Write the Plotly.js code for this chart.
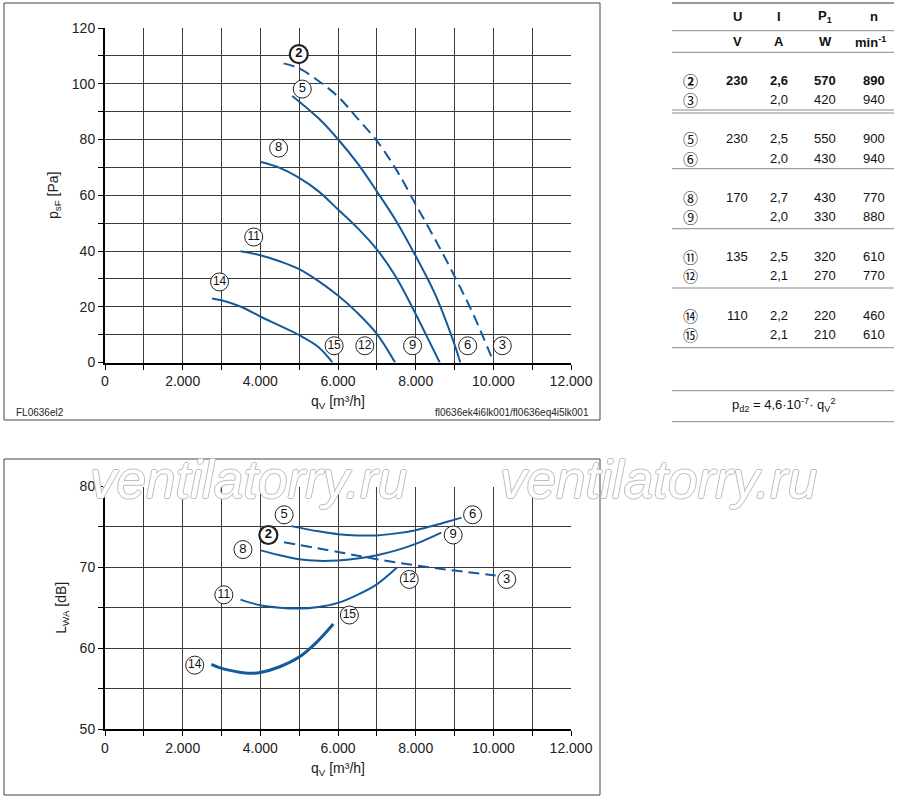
<!DOCTYPE html>
<html><head><meta charset="utf-8">
<script src="https://cdn.plot.ly/plotly-3.0.1.min.js"></script>
<style>html,body{margin:0;padding:0;background:#fff}#chart{width:900px;height:797px}</style>
</head><body><div id="chart"></div>
<script>
// ---------- DATA ----------
// Pressure curves: q_V [m³/h] vs p_sF [Pa]
const pQ2  = [4600,5000,5500,6000,6500,7000,7500,8000,8500,9000,9500,10010];
const pP2  = [107.3,105.5,101,95.4,87.6,79.5,69.2,56.7,44.2,31,16.8,0];
const pQ5  = [4820,5000,5500,6000,6500,7000,7500,8000,8500,9000,9150];
const pP5  = [95.6,93.6,87.6,80.1,71.5,61.4,50.7,38.2,24.5,6.5,0];
const pQ8  = [4017,4500,5000,5500,6000,6500,7000,7500,8000,8300,8620];
const pP8  = [71.9,69.8,66.2,61.4,54.9,48.3,40.6,30.5,17.4,9.0,0];
const pQ11 = [3490,4000,4500,5000,5500,6000,6500,7000,7470];
const pP11 = [39.9,38.5,36.3,33.5,29.2,24,17.8,10.3,0];
const pQ14 = [2755,3000,3500,4000,4500,5000,5500,5860];
const pP14 = [23,22.3,20,16.5,13.2,9.8,5.5,0];

// Sound power curves: q_V [m³/h] vs L_WA [dB]
const sQ5  = [4800,5500,6000,6500,7000,7500,8000,8500,9000,9180];
const sL5  = [75.1,74.45,74.1,73.95,73.95,74.2,74.6,75.2,75.9,76.15];
const sQ8  = [4010,4500,5000,5500,6000,6500,7000,7500,8000,8660];
const sL8  = [72.1,71.5,71.0,70.8,70.85,71.1,71.5,72.1,72.9,74.3];
const sQ2  = [4610,6000,7000,8000,9000,10060];
const sL2  = [73.1,71.9,71.0,70.25,69.6,69.0];
const sQ11 = [3490,4000,4500,5000,5500,6000,6500,7000,7525];
const sL11 = [66.0,65.3,65.0,64.9,65.1,65.6,66.6,67.9,70.0];
const sQ14 = [2740,3000,3500,3700,4000,4500,5000,5400,5880];
const sL14 = [58.0,57.5,57.0,56.9,57.0,57.7,58.9,60.5,63.0];

// Curve labels
const pLabelIds = ['2','5','8','11','14','15','12','9','6','3'];
const pLabelQ   = [4990,5080,4470,3830,2950,5900,6690,7920,9340,10230];
const pLabelP   = [110.6,98.1,76.9,45,28.9,6,6,6,6,6];
const sLabelIds = ['5','6','2','9','8','12','3','11','15','14'];
const sLabelQ   = [4612,9466,4207,8966,3552,7836,10345,3060,6293,2310];
const sLabelL   = [76.5,76.5,74.0,74.0,72.2,68.5,68.5,66.6,64.1,57.9];

// Ticks
const qTickVals = [0,1000,2000,3000,4000,5000,6000,7000,8000,9000,10000,11000,12000];
const qTickText = ['0','','2.000','','4.000','','6.000','','8.000','','10.000','','12.000'];
const pTickVals = [0,10,20,30,40,50,60,70,80,90,100,110,120];
const pTickText = ['0','','20','','40','','60','','80','','100','','120'];
const lTickVals = [50,55,60,65,70,75,80];
const lTickText = ['50','','60','','70','','80'];

// Table
const tableHead  = ['U','I','P<sub>1</sub>','n'];
const tableUnits = ['V','A','W','min<sup>-1</sup>'];
const tableIds   = ['②','③','⑤','⑥','⑧','⑨','⑪','⑫','⑭','⑮'];
const tableU     = ['230','','230','','170','','135','','110',''];
const tableI     = ['2,6','2,0','2,5','2,0','2,7','2,0','2,5','2,1','2,2','2,1'];
const tableP     = ['570','420','550','430','430','330','320','270','220','210'];
const tableN     = ['890','940','900','940','770','880','610','770','460','610'];
const tableFormula = 'p<sub>d2</sub> = 4,6·10<sup>-7</sup>· q<sub>V</sub><sup>2</sup>';

// ---------- BUILD ----------
const W = 900, H = 797;
const px = x => x / W;
const py = y => 1 - y / H;
const BLUE = '#14599a';
const FONT = 'Liberation Sans, Arial, sans-serif';

function curve(x, y, xa, ya, dashed, width) {
  return {x, y, xaxis: xa, yaxis: ya, type: 'scatter', mode: 'lines',
    line: {color: BLUE, width: width || 2, shape: 'spline', smoothing: 1, dash: dashed ? '11px,6px' : 'solid'},
    hoverinfo: 'skip', showlegend: false};
}
function labels(ids, x, y, xa, ya) {
  return {x, y, xaxis: xa, yaxis: ya, type: 'scatter', mode: 'markers+text',
    text: ids.map(t => t === '2' ? '<b>2</b>' : t),
    textposition: 'middle center',
    textfont: {family: FONT, size: ids.map(t => t.length > 1 ? 12 : 13), color: '#111'},
    marker: {symbol: 'circle', size: 18, color: '#fff',
      line: {color: '#222', width: ids.map(t => t === '2' ? 2.2 : 1)}},
    hoverinfo: 'skip', showlegend: false};
}

const traces = [
  curve(pQ2, pP2, 'x', 'y', true),
  curve(pQ5, pP5, 'x', 'y'),
  curve(pQ8, pP8, 'x', 'y'),
  curve(pQ11, pP11, 'x', 'y'),
  curve(pQ14, pP14, 'x', 'y'),
  labels(pLabelIds, pLabelQ, pLabelP, 'x', 'y'),
  curve(sQ2, sL2, 'x2', 'y2', true),
  curve(sQ5, sL5, 'x2', 'y2'),
  curve(sQ8, sL8, 'x2', 'y2'),
  curve(sQ11, sL11, 'x2', 'y2'),
  curve(sQ14, sL14, 'x2', 'y2', false, 3),
  labels(sLabelIds, sLabelQ, sLabelL, 'x2', 'y2'),
];

const xCommon = {
  range: [0, 12000], tickmode: 'array', tickvals: qTickVals, ticktext: qTickText,
  showgrid: true, gridcolor: '#3a3a3a', gridwidth: 1,
  showline: true, linecolor: '#000', linewidth: 2,
  ticks: 'outside', ticklen: 5, tickcolor: '#000', tickwidth: 1,
  tickfont: {family: FONT, size: 14, color: '#222'},
  zeroline: false, fixedrange: true, automargin: false,
  domain: [px(105), px(571)]
};
const yCommon = {
  tickmode: 'array', showgrid: true, gridcolor: '#3a3a3a', gridwidth: 1,
  showline: true, linecolor: '#000', linewidth: 2,
  ticks: 'outside', ticklen: 5, tickcolor: '#000', tickwidth: 1,
  tickfont: {family: FONT, size: 14, color: '#222'},
  zeroline: false, fixedrange: true, automargin: false
};
const xTitle = {text: 'q<sub>V</sub> [m³/h]', font: {family: FONT, size: 14, color: '#222'}, standoff: 8};

const shapes = [];
// frames
shapes.push({type: 'rect', xref: 'paper', yref: 'paper', x0: px(4), x1: px(600), y0: py(420), y1: py(3), line: {color: '#444', width: 1}});
shapes.push({type: 'rect', xref: 'paper', yref: 'paper', x0: px(4), x1: px(600), y0: py(795), y1: py(459), line: {color: '#444', width: 1}});
// table lines
const tblLines = [[3,2,'#9a9a9a'],[30.7,1,'#888'],[52.3,1,'#888'],[110,1,'#888'],[113,1,'#888'],[168.7,1,'#888'],[228.7,1,'#888'],[288,1,'#888'],[347.7,1,'#888'],[390.7,1,'#888'],[421.7,1,'#888']];
tblLines.forEach(([y, w, c]) => shapes.push({type: 'line', xref: 'paper', yref: 'paper', x0: px(672), x1: px(894), y0: py(y), y1: py(y), line: {color: c, width: w}}));

const ann = [];
function txt(x, y, text, opts) {
  if (!text) return;
  ann.push(Object.assign({xref: 'paper', yref: 'paper', x: px(x), y: py(y), text, showarrow: false,
    xanchor: 'center', yanchor: 'middle', font: {family: FONT, size: 13, color: '#222'}}, opts || {}));
}
// watermark
const wm = {family: FONT, size: 53, color: '#ffffff', style: 'italic',
  shadow: '1px 0 0 #bdbdbd, -1px 0 0 #bdbdbd, 0 1px 0 #bdbdbd, 0 -1px 0 #bdbdbd'};
txt(88, 479, 'ventilatorry.ru', {xanchor: 'left', font: wm});
txt(498, 479, 'ventilatorry.ru', {xanchor: 'left', font: wm});
// footers
txt(14, 412, 'FL0636el2', {xanchor: 'left', font: {family: FONT, size: 10, color: '#222'}});
txt(591, 412, 'fl0636ek4i6lk001/fl0636eq4i5lk001', {xanchor: 'right', font: {family: FONT, size: 10, color: '#222'}});
// table
const colX = [737, 778.5, 825, 874];
tableHead.forEach((t, i) => txt(colX[i], 16, '<b>' + t + '</b>', {font: {family: FONT, size: 13, color: '#111'}}));
tableUnits.forEach((t, i) => txt(colX[i] - (i === 3 ? 4 : 0), 41.5, '<b>' + t + '</b>', {font: {family: FONT, size: 13, color: '#111'}}));
tableIds.forEach((id, r) => {
  const g = Math.floor(r / 2), k = r % 2;
  const y = 80 + g * 58.8 + k * 19.2;
  const bold = r === 0;
  const f = {family: FONT, size: 13, color: '#111'};
  const b = s => (bold && s) ? '<b>' + s + '</b>' : s;
  txt(690.5, y, b(id), {font: {family: 'Noto Sans CJK JP, DejaVu Sans, sans-serif', size: 15, color: '#111'}});
  txt(colX[0], y, b(tableU[r]), {font: f});
  txt(colX[1], y, b(tableI[r]), {font: f});
  txt(colX[2], y, b(tableP[r]), {font: f});
  txt(colX[3], y, b(tableN[r]), {font: f});
});
txt(783, 405, tableFormula, {font: {family: FONT, size: 13, color: '#111'}});

const layout = {
  width: W, height: H, margin: {l: 0, r: 0, t: 0, b: 0},
  paper_bgcolor: '#fff', plot_bgcolor: '#fff', showlegend: false,
  xaxis: Object.assign({}, xCommon, {anchor: 'y', title: xTitle}),
  yaxis: Object.assign({}, yCommon, {anchor: 'x', range: [0, 120], tickvals: pTickVals, ticktext: pTickText,
    domain: [py(362.5), py(28)],
    title: {text: 'p<sub>sF</sub> [Pa]', font: {family: FONT, size: 14, color: '#222'}, standoff: 10}}),
  xaxis2: Object.assign({}, xCommon, {anchor: 'y2', title: xTitle}),
  yaxis2: Object.assign({}, yCommon, {anchor: 'x2', range: [50, 80], tickvals: lTickVals, ticktext: lTickText,
    domain: [py(729), py(486.5)],
    title: {text: 'L<sub>WA</sub> [dB]', font: {family: FONT, size: 14, color: '#222'}, standoff: 10}}),
  shapes, annotations: ann
};

Plotly.newPlot('chart', traces, layout, {staticPlot: true, displayModeBar: false});
</script></body></html>
